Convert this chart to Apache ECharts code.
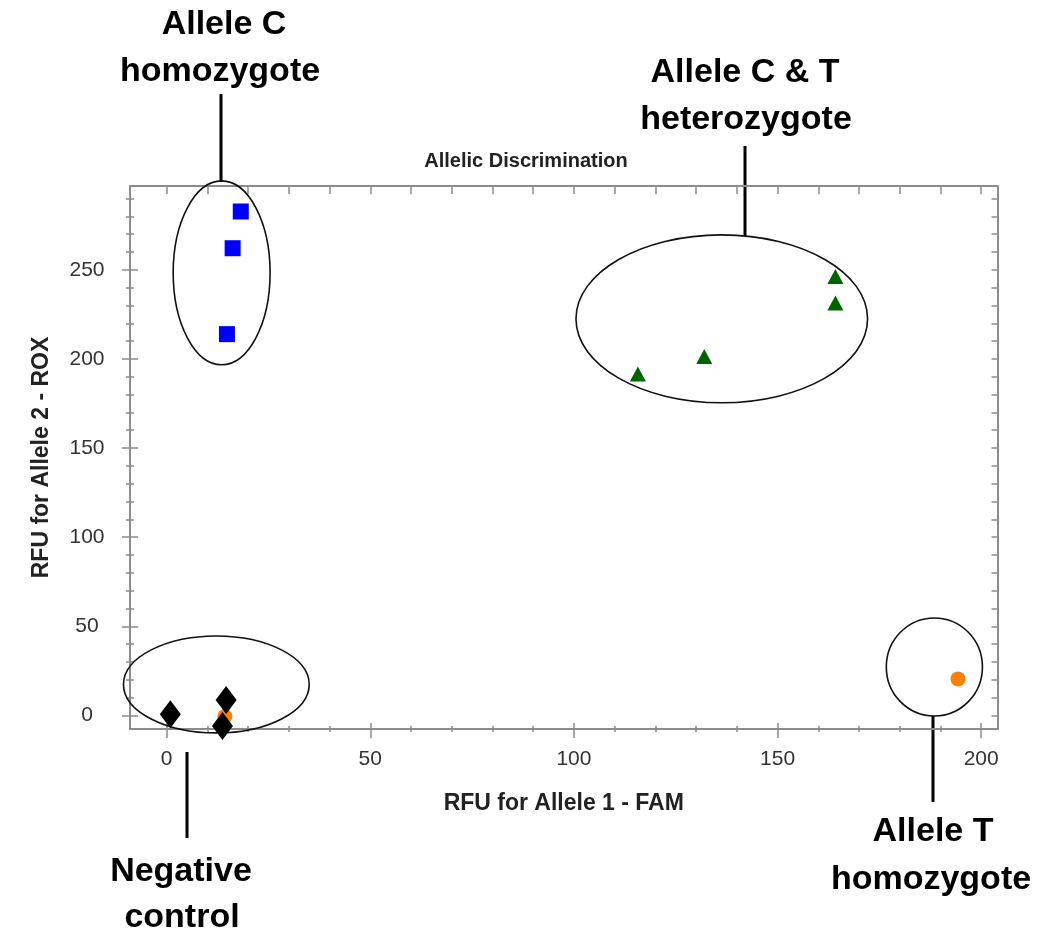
<!DOCTYPE html>
<html>
<head>
<meta charset="utf-8">
<title>Allelic Discrimination</title>
<script src="https://cdn.jsdelivr.net/npm/echarts@6.0.0/dist/echarts.min.js"></script>
<style>
	html, body { margin: 0; padding: 0; background: #fff; }
	#chart-one { width: 1059px; height: 937px; }
</style>
</head>
<body>
<div id="chart-one"></div>
<script>
// points (FAM, ROX)
var alleleC = [[18.2, 282.7], [16.2, 262.1], [14.8, 213.9]];
var alleleCT = [[164.2, 246.2], [164.2, 231.3], [132.0, 201.3], [115.7, 191.6]];
var alleleT = [[194.3, 20.5], [14.3, -0.5]];
var negative = [[0.9, 0.7], [14.6, 8.7], [13.7, -5.9]];

// ticks
var xMajor = [0, 50, 100, 150, 200];
var xMinor = [0, 10, 20, 30, 40, 50, 60, 70, 80, 90, 100, 110, 120, 130, 140, 150, 160, 170, 180, 190, 200];
var yMajor = [0, 50, 100, 150, 200, 250];
var yMinor = [0, 10, 20, 30, 40, 50, 60, 70, 80, 90, 100, 110, 120, 130, 140, 150, 160, 170, 180, 190, 200, 210, 220, 230, 240, 250, 260, 270, 280, 290];

// cluster rings: centre x, centre y, half width, half height (data units)
var clusters = [[13.5, 248.3, 11.9, 51.6], [136.3, 222.5, 35.8, 47.1], [12.2, 17.4, 22.8, 27.2], [188.5, 27.2, 11.8, 27.5]];

var FRAME = '#8c8c8c';
var FONT = '"Liberation Sans", Arial, sans-serif';

var LinesChart = function(){
	this.mychart = echarts.init(document.getElementById('chart-one'));

	// one axis per tick style, all sitting on the same grid edge
	function tickAxis(type, position, values, len, inside){
		var ax = {
			type: 'value',
			position: position,
			min: type === 'x' ? -9 : -7.6,
			max: type === 'x' ? 204 : 297,
			splitLine: { show: false },
			axisLine: { show: false, onZero: false },
			axisLabel: { show: false },
			axisTick: {
				show: true,
				inside: inside,
				length: len,
				customValues: values,
				lineStyle: { color: FRAME, width: 1.5 }
			}
		};
		return ax;
	}

	this.initChart = function(){
		var xMain = tickAxis('x', 'bottom', xMajor, 9, false);
		xMain.axisLine = { show: true, onZero: false, lineStyle: { color: FRAME, width: 2 } };
		xMain.axisLabel = { show: true, customValues: xMajor, margin: 20, fontSize: 21, color: '#333', fontFamily: FONT };
		xMain.name = 'RFU for Allele 1 - FAM';
		xMain.nameLocation = 'middle';
		xMain.nameGap = 63;
		xMain.nameTextStyle = { fontSize: 23, fontWeight: 'bold', color: '#222', fontFamily: FONT };

		var xTop = tickAxis('x', 'top', xMinor, 8, true);
		xTop.axisLine = { show: true, onZero: false, lineStyle: { color: FRAME, width: 2 } };

		var yMain = tickAxis('y', 'left', yMajor, 8, false);
		yMain.axisLine = { show: true, onZero: false, lineStyle: { color: FRAME, width: 2 } };
		yMain.axisLabel = { show: true, customValues: yMajor, margin: 43, align: 'center', fontSize: 21, color: '#333', fontFamily: FONT };
		yMain.name = 'RFU for Allele 2 - ROX';
		yMain.nameLocation = 'middle';
		yMain.nameGap = 77;
		yMain.nameTextStyle = { fontSize: 23, fontWeight: 'bold', color: '#222', fontFamily: FONT };

		var yRight = tickAxis('y', 'right', yMinor, 6, true);
		yRight.axisLine = { show: true, onZero: false, lineStyle: { color: FRAME, width: 2 } };

		var option = {
			animation: false,
			backgroundColor: '#fff',
			title: {
				text: 'Allelic Discrimination',
				left: 521,
				top: 146,
				textAlign: 'center',
				textStyle: { fontSize: 20, fontWeight: 'bold', color: '#222', fontFamily: FONT }
			},
			grid: { left: 130, top: 186, right: 61.5, bottom: 208 },
			xAxis: [
				xMain,
				tickAxis('x', 'bottom', xMajor, 6, true),
				tickAxis('x', 'bottom', xMinor, 3, true),
				tickAxis('x', 'bottom', xMinor, 3, false),
				xTop
			],
			yAxis: [
				yMain,
				tickAxis('y', 'left', yMajor, 8, true),
				tickAxis('y', 'left', yMinor, 4, true),
				tickAxis('y', 'left', yMinor, 4, false),
				yRight
			],
			graphic: [],
			series: [
				{
					type: 'custom',
					clip: false,
					z: 1,
					encode: { x: 0, y: 1 },
					renderItem: function(params, api){
						var c = api.coord([api.value(0), api.value(1)]);
						var s = api.size([api.value(2), api.value(3)]);
						return {
							type: 'ellipse',
							shape: { cx: c[0], cy: c[1], rx: s[0], ry: s[1] },
							style: { fill: 'none', stroke: '#111', lineWidth: 1.6 }
						};
					},
					data: clusters
				},
				{ type: 'scatter', name: 'Allele C', symbol: 'rect', symbolSize: 16, itemStyle: { color: '#0000ff', opacity: 1 }, data: alleleC, z: 3 },
				{ type: 'scatter', name: 'Allele C & T', symbol: 'triangle', symbolSize: [16, 15], itemStyle: { color: '#006400', opacity: 1 }, data: alleleCT, z: 3 },
				{ type: 'scatter', name: 'Allele T', symbol: 'circle', symbolSize: 15, itemStyle: { color: '#ff8000', opacity: 1 }, data: alleleT, z: 3 },
				{ type: 'scatter', name: 'Negative', symbol: 'diamond', symbolSize: [21, 28], itemStyle: { color: '#000', opacity: 1 }, data: negative, z: 4 }
			]
		};

		// callouts: two text lines and a leader line, pixel layout
		var callouts = [
			{ lines: ['Allele C', 'homozygote'], pos: [[224, 25], [220, 72]], leader: [221, 94, 221, 182] },
			{ lines: ['Allele C & T', 'heterozygote'], pos: [[745, 73], [746, 120]], leader: [745, 146, 745, 236] },
			{ lines: ['Negative', 'control'], pos: [[181, 872], [182, 918]], leader: [187, 752, 187, 838] },
			{ lines: ['Allele T', 'homozygote'], pos: [[933, 832], [931, 880]], leader: [933, 716, 933, 802] }
		];
		callouts.forEach(function(c){
			c.lines.forEach(function(t, i){
				option.graphic.push({
					type: 'text',
					x: c.pos[i][0],
					y: c.pos[i][1],
					style: {
						text: t,
						align: 'center',
						verticalAlign: 'middle',
						fontSize: 34,
						fontWeight: 'bold',
						fontFamily: FONT,
						fill: '#000'
					}
				});
			});
			option.graphic.push({
				type: 'line',
				shape: { x1: c.leader[0], y1: c.leader[1], x2: c.leader[2], y2: c.leader[3] },
				style: { stroke: '#000', lineWidth: 3 }
			});
		});

		this.mychart.setOption(option);
	}
}

var chart = new LinesChart();
chart.initChart();
</script>
</body>
</html>
